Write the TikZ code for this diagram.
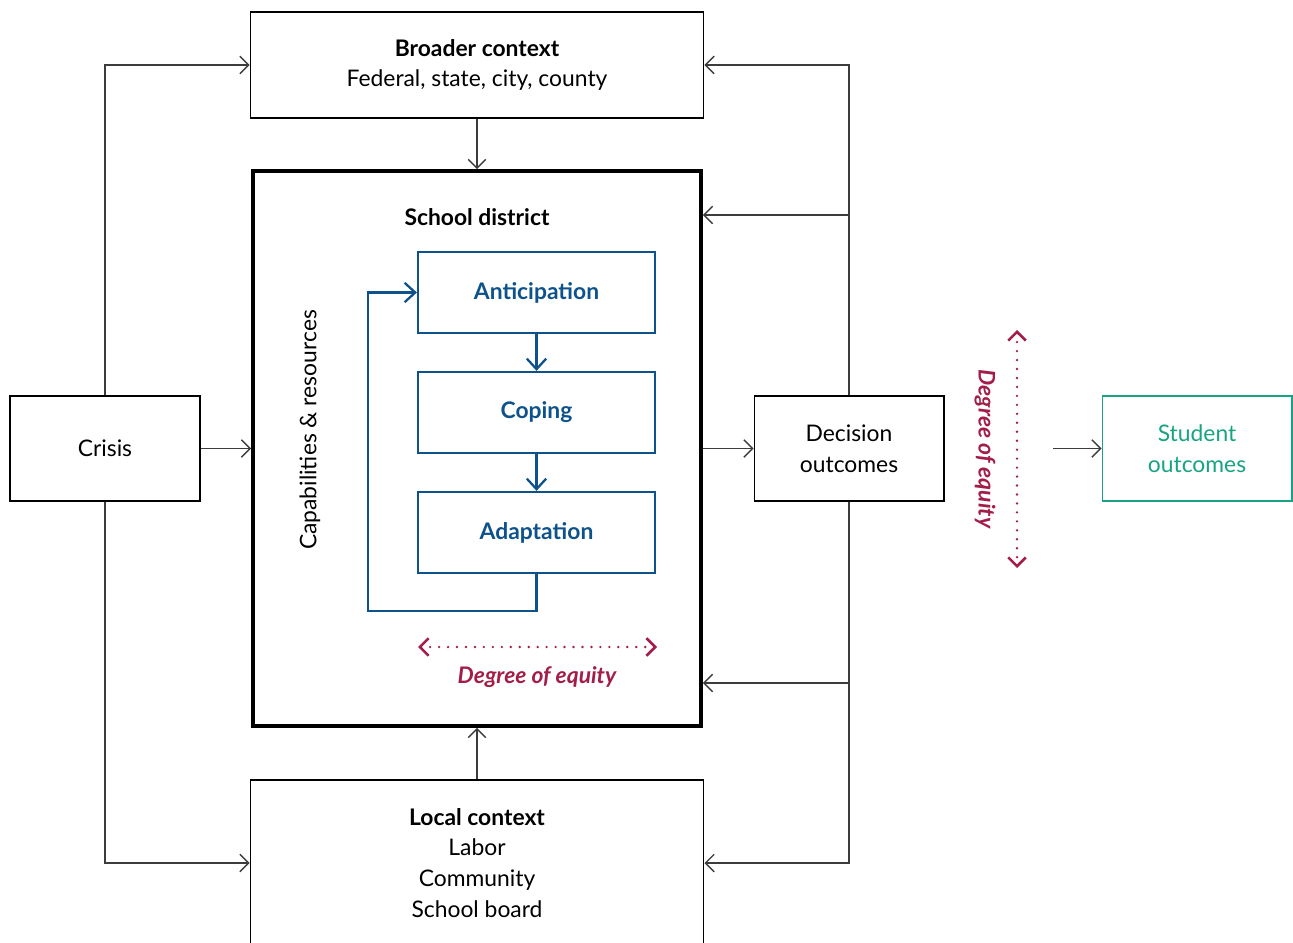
\documentclass[tikz,border=0pt]{standalone}
\usepackage{fontspec}
\setmainfont{Lato}
\usetikzlibrary{arrows.meta,positioning,calc}
\definecolor{stageblue}{RGB}{14,82,140}
\definecolor{equityred}{RGB}{162,30,72}
\definecolor{outcometeal}{RGB}{24,164,130}
\definecolor{linegray}{RGB}{60,60,60}

\begin{document}
\begin{tikzpicture}[x=0.02cm,y=-0.02cm,
    font=\fontsize{13}{17.6}\selectfont,
    box/.style={draw=black,line width=0.6pt,inner sep=0pt,align=center,
      minimum width=3.8cm,minimum height=2.1cm},
    wide/.style={box,minimum width=9.08cm},
    stage/.style={draw=stageblue,line width=1.3pt,inner sep=0pt,
      minimum width=4.74cm,minimum height=1.62cm,text=stageblue,
      font=\fontsize{13}{16}\selectfont\bfseries},
    arr/.style={linegray,line width=0.75pt,-{Straight Barb[length=5pt,width=10pt]}},
    blarr/.style={stageblue,line width=1.3pt,-{Straight Barb[length=6pt,width=11pt]}},
    eqarr/.style={equityred,line width=1.5pt,dash pattern=on 0pt off 5.1pt,line cap=round,
      {Straight Barb[length=5pt,width=10pt]}-{Straight Barb[length=5pt,width=10pt]}},
    eqtxt/.style={equityred,font=\fontsize{13}{16}\selectfont\bfseries\itshape}]
        \useasboundingbox (0,0) rectangle (1293,942);
        % ---- kontekst qutilari ----
        \node[wide,minimum height=2.12cm] (broader) at (477,65)
            {\textbf{Broader context}\\Federal, state, city, county};
        \node[wide,minimum height=3.32cm] (local) at (477,863)
            {\textbf{Local context}\\Labor\\Community\\School board};
        \node[box] (crisis) at (105,448.5) {Crisis};
        \node[box] (decision) at (849,448.5) {Decision\\outcomes};
        \node[box,draw=outcometeal,text=outcometeal] (student) at (1197,448.5)
            {Student\\outcomes};
        % ---- maktab okrugi ----
        \node[draw=black,line width=2.3pt,inner sep=0pt,
              minimum width=8.96cm,minimum height=11.1cm] (school) at (477,448.5) {};
        \node[font=\fontsize{13}{16}\selectfont\bfseries] (sdlabel) at (477,217)
            {School district};
        \node[rotate=90] (capres) at (310,430) {Capabilities \& resources};
        % ---- bosqichlar ----
        \foreach \nm/\txt/\y in {ant/Anticipation/292.5, cop/Coping/412.5, ada/Adaptation/532.5}
          \node[stage] (\nm) at (536.5,\y) {\txt};
        \foreach \a/\b in {ant/cop, cop/ada}
          \draw[blarr] (\a.south) -- (\b.north);
        \draw[blarr] (ada.south) -- ++(0,37) -| ([xshift=-0.98cm]ant.west) -- (ant.west);
        % ---- bog'lanishlar ----
        \draw[arr] (crisis.north) |- (broader.west);
        \draw[arr] (crisis.south) |- (local.west);
        \draw[arr] (crisis.east) -- (school.west);
        \draw[arr] (broader.south) -- (school.north);
        \draw[arr] (local.north) -- (school.south);
        \draw[arr] (school.east) -- (decision.west);
        \draw[arr] (decision.north) |- (broader.east);
        \draw[arr] (decision.south) |- (local.east);
        \coordinate (hiIn) at (school.east |- 0,215);
        \coordinate (loIn) at (school.east |- 0,683);
        \draw[arr] (decision.north |- hiIn) -- (hiIn);
        \draw[arr] (decision.south |- loIn) -- (loIn);
        \coordinate (eqOut) at (1053,448.5);
        \draw[arr] (eqOut) -- (student.west);
        % ---- tenglik darajasi ----
        \coordinate (eqTop) at (1017,330);
        \coordinate (eqBot) at (1017,568);
        \draw[eqarr] (eqTop) -- (eqBot);
        \node[eqtxt,rotate=-90] (eqv) at (985,449) {Degree of equity};
        \coordinate (eqL) at (418,647);
        \coordinate (eqR) at (657,647);
        \draw[eqarr] (eqL) -- (eqR);
        \node[eqtxt] (eqh) at (537,677) {Degree of equity};
\end{tikzpicture}
\end{document}
